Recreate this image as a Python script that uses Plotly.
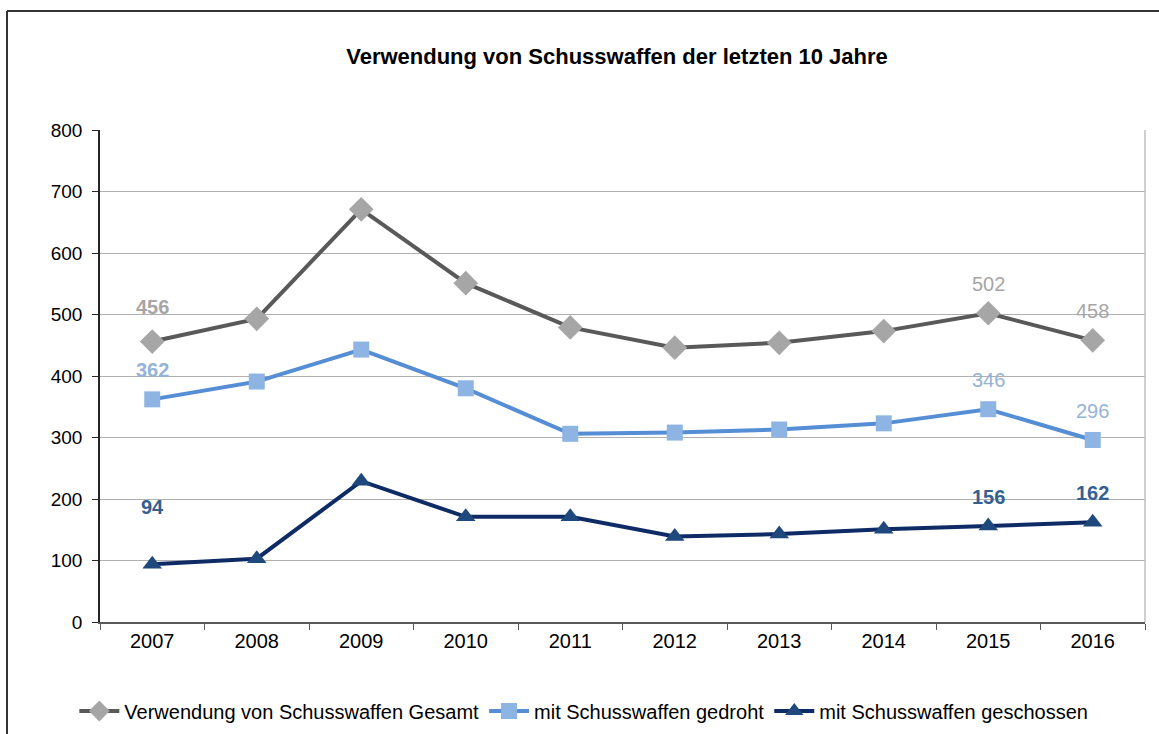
import plotly.graph_objects as go

years = ["2007", "2008", "2009", "2010", "2011", "2012", "2013", "2014", "2015", "2016"]
gesamt = [456, 493, 671, 551, 479, 446, 454, 473, 502, 458]
gedroht = [362, 391, 443, 380, 306, 308, 313, 323, 346, 296]
geschossen = [94, 103, 229, 171, 171, 139, 143, 151, 156, 162]

names = ["Verwendung von Schusswaffen Gesamt", "mit Schusswaffen gedroht", "mit Schusswaffen geschossen"]
labeled_years = ["2007", "2015", "2016"]

FONT = "Liberation Sans, Arial, sans-serif"

fig = go.Figure()
fig.add_trace(go.Scatter(x=years, y=gesamt, name=names[0], mode="lines+markers",
                         line=dict(color="#595959", width=4),
                         marker=dict(symbol="diamond", size=19, color="#A6A6A6")))
fig.add_trace(go.Scatter(x=years, y=gedroht, name=names[1], mode="lines+markers",
                         line=dict(color="#558ED5", width=4),
                         marker=dict(symbol="square", size=16, color="#8DB4E2")))
fig.add_trace(go.Scatter(x=years, y=geschossen, name=names[2], mode="lines+markers",
                         line=dict(color="#0F2B66", width=4),
                         marker=dict(symbol="triangle-up", size=17, color="#1F497D")))

series = [(gesamt, "#A6A6A6"), (gedroht, "#95B3D7"), (geschossen, "#365F91")]
shifts = {(0, "2007"): 35, (2, "2007"): 57}
bold = {(0, "2007"), (1, "2007"), (2, "2007"), (2, "2015"), (2, "2016")}
for si, (vals, col) in enumerate(series):
    for yr in labeled_years:
        i = years.index(yr)
        v = vals[i]
        txt = f"<b>{v}</b>" if (si, yr) in bold else str(v)
        fig.add_annotation(x=i, y=v, xref="x", yref="y", text=txt, showarrow=False,
                           yshift=shifts.get((si, yr), 29),
                           font=dict(family=FONT, size=20, color=col))

# outer chart frame (top and left edges visible)
fx = (7 - 100) / 1045
fy = (622 - 11) / 492
fig.add_shape(type="line", xref="paper", yref="paper", x0=fx, x1=1.02,
              y0=fy, y1=fy, line=dict(color="#333333", width=2))
fig.add_shape(type="line", xref="paper", yref="paper", x0=fx, x1=fx,
              y0=fy, y1=-0.3, line=dict(color="#333333", width=2))
# right plot border
fig.add_shape(type="line", xref="paper", yref="paper", x0=1, x1=1, y0=0, y1=1,
              line=dict(color="#BFBFBF", width=1.5))

fig.update_layout(
    width=1159, height=734,
    margin=dict(l=100, r=14, t=130, b=112, autoexpand=False),
    paper_bgcolor="white", plot_bgcolor="white",
    font=dict(family=FONT, size=20, color="#000000"),
    title=dict(text="<b>Verwendung von Schusswaffen der letzten 10 Jahre</b>",
               x=617 / 1159, xanchor="center", y=1 - 56 / 734, yanchor="middle",
               font=dict(family=FONT, size=22, color="#000000")),
    showlegend=True,
    legend=dict(orientation="h", x=0.463, xanchor="center", y=(622 - 711) / 492, yanchor="middle",
                font=dict(family=FONT, size=20, color="#000000"), itemwidth=40,
                traceorder="normal"),
    xaxis=dict(type="category", showgrid=False, showline=True, linecolor="#595959", linewidth=2,
               ticks="outside", ticklen=6, tickcolor="#595959", tickson="boundaries",
               tickfont=dict(family=FONT, size=20, color="#000000"), range=[-0.5, 9.5]),
    yaxis=dict(range=[0, 800], dtick=100, showgrid=True, gridcolor="#B0B0B0", gridwidth=1.2,
               showline=True, linecolor="#262626", linewidth=1.5, ticks="outside", ticklen=6,
               tickcolor="#262626", zeroline=False, ticklabelstandoff=6,
               tickfont=dict(family=FONT, size=19, color="#000000")),
)

fig.write_html("out.html", config={"displayModeBar": False},
               post_script="document.body.style.margin='0';")
